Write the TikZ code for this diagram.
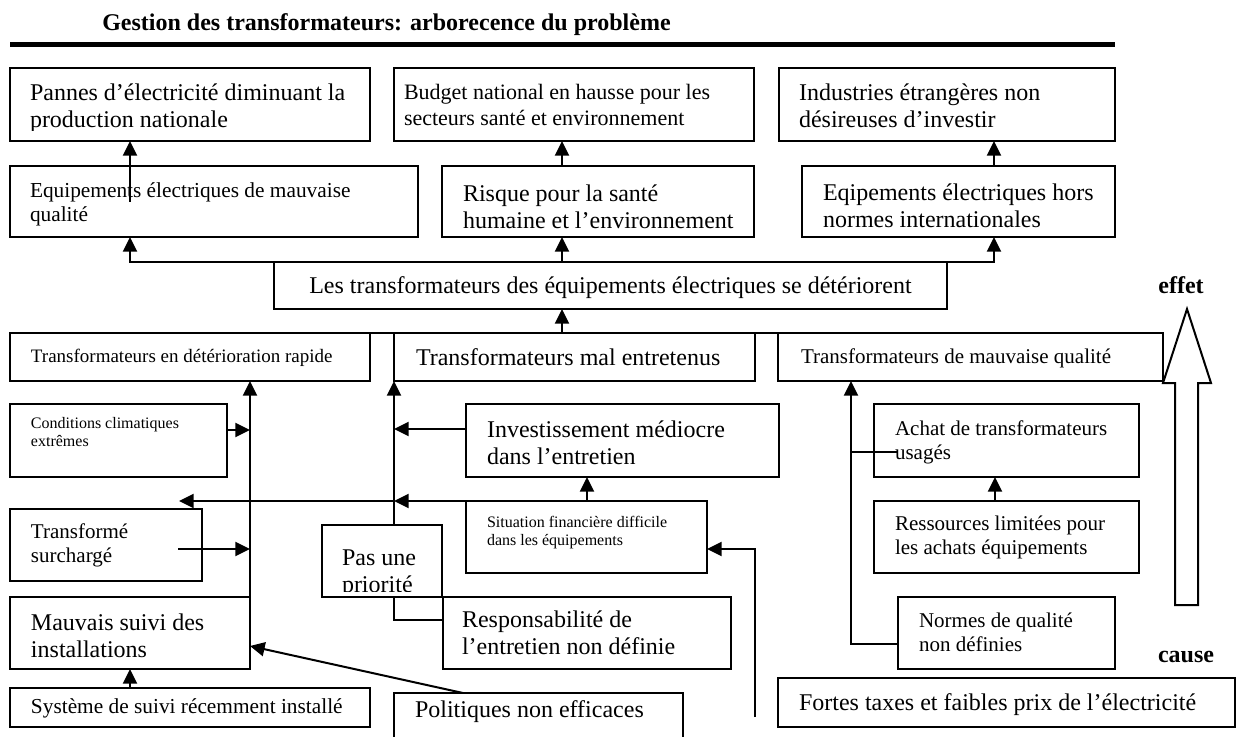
\documentclass[tikz,border=0pt]{standalone}
\usepackage{fontspec}
\setmainfont{Liberation Serif}
\usetikzlibrary{arrows.meta,calc,fit}

% strut fixing the top of the first text line in every label
\newcommand\firstline{\rule{0pt}{0.8em}}

\begin{document}
\begin{tikzpicture}[x=0.75pt,y=-0.75pt,
  box/.style={draw,line width=1.5pt,fill=white,inner sep=0pt,outer sep=0pt},
  lbl/.style={anchor=north west,inner sep=0pt,outer sep=0pt,align=left},
  arr/.style={line width=1.5pt,-{Triangle[length=11pt,width=10.5pt]}},
  link/.style={line width=1.5pt},
  fXL/.style={font={\fontsize{18pt}{20.7pt}\selectfont}},
  fL/.style={font={\fontsize{16.5pt}{20pt}\selectfont}},
  fM/.style={font={\fontsize{16pt}{18.4pt}\selectfont}},
  fN/.style={font={\fontsize{15.75pt}{18.1pt}\selectfont}},
  fS/.style={font={\fontsize{14.25pt}{16.4pt}\selectfont}},
  fXS/.style={font={\fontsize{12pt}{13.8pt}\selectfont}},
  head/.style={inner sep=0pt,font={\bfseries\fontsize{18pt}{20pt}\selectfont}}]

\fill[white] (0,0) rectangle (1237,736);
\useasboundingbox (0,0) rectangle (1237,736);

% heading
\node[head,anchor=base west] (title) at (102,30) {Gestion des transformateurs: arborecence du problème};
\draw[line width=3.2pt] (10,44.5) -- (1115,44.5);

% ---------- boxes ----------
\node[box,fit={(10,68) (370,141)}] (A) {};
\node[box,fit={(394,68) (754,141)}] (B) {};
\node[box,fit={(779,68) (1115,141)}] (C) {};
\node[box,fit={(10,166) (418,237)}] (D) {};
\node[box,fit={(442,166) (754,237)}] (E) {};
\node[box,fit={(802,166) (1115,237)}] (F) {};
\node[box,fit={(274,262) (947,309)}] (Les) {};
\node[box,fit={(10,333) (370,381)}] (R1) {};
\node[box,fit={(394,333) (755,381)}] (R2) {};
\node[box,fit={(778,333) (1163,381)}] (R3) {};
\node[box,fit={(10,404) (227,477)}] (Cond) {};
\node[box,fit={(466,404) (779,477)}] (Inv) {};
\node[box,fit={(874,404) (1139,477)}] (Achat) {};
\node[box,fit={(10,509) (202,581)}] (Transf) {};
\node[box,fit={(466,501) (707,573)}] (Sit) {};
\node[box,fit={(874,501) (1139,573)}] (Res) {};
\node[box,fit={(322,525) (442,597)}] (Pas) {};
\node[box,fit={(443,597) (731,669)}] (Resp) {};
\node[box,fit={(898,597) (1115,669)}] (Normes) {};
\node[box,fit={(10,597) (250,669)}] (Mauv) {};
\node[box,fit={(10,688) (370,727)}] (Sys) {};
\node[box,fit={(394,693) (683,745)}] (Pol) {};
\node[box,fit={(778,678) (1235,727)}] (Fortes) {};

% ---------- texts ----------
\begin{scope}
  \clip (A.north west) rectangle ($(A.south east)+(0,-11)$);
  \node[lbl,fXL] (At) at ($(A.north west)+(20,12.8)$) {\firstline Pannes d’électricité diminuant la\\production nationale};
\end{scope}
\node[lbl,fL] (Bt) at ($(B.north west)+(10,13.4)$) {\firstline Budget national en hausse pour les\\secteurs santé et environnement};
\node[lbl,fXL] (Ct) at ($(C.north west)+(20,12.8)$) {\firstline Industries étrangères non\\désireuses d’investir};
\node[lbl,fM] (Dt) at ($(D.north west)+(20,14)$) {\firstline Equipements électriques de mauvaise\\qualité};
\node[lbl,fXL] (Et) at ($(E.north west)+(21,15.8)$) {\firstline Risque pour la santé\\humaine et l’environnement};
\node[lbl,fXL] (Ft) at ($(F.north west)+(21,14.8)$) {\firstline Eqipements électriques hors\\normes internationales};
\node[lbl,fXL,anchor=north] (Lest) at ($(Les.north)+(0,11.8)$) {\firstline Les transformateurs des équipements électriques se détériorent};
\node[lbl,fS] (R1t) at ($(R1.north west)+(21,13.8)$) {\firstline Transformateurs en détérioration rapide};
\node[lbl,fXL] (R2t) at ($(R2.north west)+(22,12.8)$) {\firstline Transformateurs mal entretenus};
\node[lbl,fN] (R3t) at ($(R3.north west)+(23,13.2)$) {\firstline Transformateurs de mauvaise qualité};
\node[lbl,fXS] (Condt) at ($(Cond.north west)+(21,11.2)$) {\firstline Conditions climatiques\\extrêmes};
\node[lbl,fXL] (Invt) at ($(Inv.north west)+(21,13.8)$) {\firstline Investissement médiocre\\dans l’entretien};
\node[lbl,fN] (Achatt) at ($(Achat.north west)+(21,14.2)$) {\firstline Achat de transformateurs\\usagés};
\node[lbl,fN] (Transft) at ($(Transf.north west)+(21,12.2)$) {\firstline Transformé\\surchargé};
\node[lbl,fXS] (Sitt) at ($(Sit.north west)+(21,13.2)$) {\firstline Situation financière difficile\\dans les équipements};
\node[lbl,fN] (Rest) at ($(Res.north west)+(21,12.2)$) {\firstline Ressources limitées pour\\les achats équipements};
\begin{scope}
  \clip (Pas.north west) rectangle ($(Pas.south east)+(0,-6)$);
  \node[lbl,fXL] (Past) at ($(Pas.north west)+(20,20.8)$) {\firstline Pas une\\priorité};
\end{scope}
\node[lbl,fXL] (Respt) at ($(Resp.north west)+(19,10.8)$) {\firstline Responsabilité de\\l’entretien non définie};
\node[lbl,fN] (Normest) at ($(Normes.north west)+(21,13.2)$) {\firstline Normes de qualité\\non définies};
\node[lbl,fXL] (Mauvt) at ($(Mauv.north west)+(21,13.8)$) {\firstline Mauvais suivi des\\installations};
\node[lbl,fM] (Syst) at ($(Sys.north west)+(21,8)$) {\firstline Système de suivi récemment installé};
\node[lbl,fXL] (Polt) at ($(Pol.north west)+(21,4.8)$) {\firstline Politiques non efficaces};
\node[lbl,fXL] (Fortest) at ($(Fortes.north west)+(21,12.8)$) {\firstline Fortes taxes et faibles prix de l’électricité};

% ---------- connectors ----------
% effects
\draw[arr] (130,0 |- D.center) -- (130,0 |- A.south);
\draw[arr] (562,0 |- E.north) -- (562,0 |- B.south);
\draw[arr] (994,0 |- F.north) -- (994,0 |- C.south);
\draw[arr] (Les.north west) -| (130,0 |- D.south);
\draw[arr] (Les.north east) -| (994,0 |- F.south);
\draw[arr] (562,0 |- Les.north) -- (562,0 |- E.south);

% direct causes
\draw[link] (R1.north west) -- (R3.north east);
\draw[arr] (562,0 |- R2.north) -- (562,0 |- Les.south);

% causes of fast deterioration
\draw[arr] (Mauv.north east) -- (Mauv.north east |- R1.south);
\path ($(Cond.north east)+(0,26)$) coordinate (c1);
\draw[arr] (c1) -- (c1 -| Mauv.east);
\path ($(Transf.east)+(-24,4)$) coordinate (t1);
\draw[arr] (t1) -- (t1 -| Mauv.east);
\draw[arr] (130,0 |- Sys.north) -- (130,0 |- Mauv.south);
\draw[arr] (463,0 |- Pol.north) -- ($(Mauv.south east)+(0,-23)$);

% causes of poor maintenance
\path ($(Inv.north west)+(0,25)$) coordinate (i1);
\draw[arr] (i1) -- (i1 -| R2.south west);
\draw[arr] (Sit.north west) -- (Sit.north west -| R2.south west);
\draw[arr] (Sit.north west -| R2.south west) -- (179,0 |- Sit.north west);
\draw[arr] (587,0 |- Sit.north) -- (587,0 |- Inv.south);
\path ($(Resp.north west)+(0,23)$) coordinate (r1);
\draw[link] (r1) -| (R2.south west |- Pas.south);
\draw[arr] (R2.south west |- Pas.north) -- (R2.south west);
\coordinate (free) at (755,717);
\path ($(Sit.south east)+(0,-24)$) coordinate (s1);
\draw[arr] (free) |- (s1);

% causes of poor quality
\path ($(Normes.south west)+(0,-25)$) coordinate (n1);
\draw[arr] (n1) -| (851,0 |- R3.south);
\path ($(Achat.south west)+(23,-25)$) coordinate (a1);
\draw[link] (851,0 |- a1) -- (a1);
\draw[arr] (995,0 |- Res.north) -- (995,0 |- Achat.south);

% cause / effect direction
\node[head,anchor=base] (effet) at (1181,293) {effet};
\node[head,anchor=base] (cause) at (1186,662) {cause};
\draw[link] (1187,309) -- (1211,383) -- (1198,383) -- (1198,605) -- (1175,605) -- (1175,383) -- (1163,383) -- cycle;
\end{tikzpicture}
\end{document}
